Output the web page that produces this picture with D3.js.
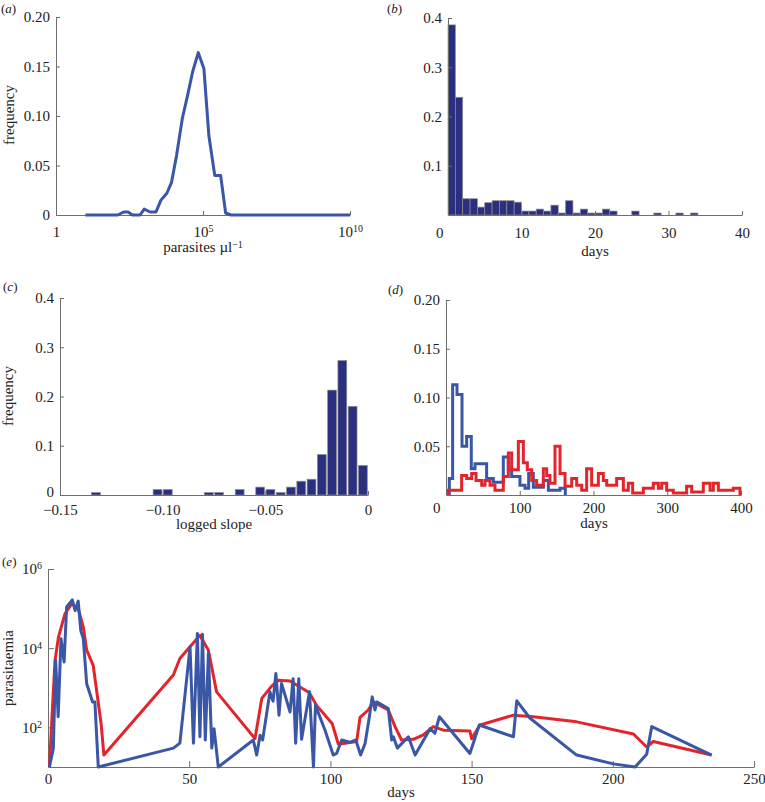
<!DOCTYPE html>
<html><head><meta charset="utf-8">
<script src="https://cdn.jsdelivr.net/npm/d3@7"></script>
<style>
body{margin:0;background:#fff;}
svg text{font-family:"Liberation Serif","Times New Roman",serif;fill:#222;}
</style>
</head><body>
<svg id="chart" width="765" height="802"></svg>
<script>
// ---------- (a) parasite density distribution ----------
const densityValues = [10, 126, 200, 282, 398, 724, 1000, 1585, 2512, 3715, 5888, 8511, 12589, 19953, 29512, 44668, 69183, 107152, 158489, 251189, 398107, 588844, 891251, 1e10];
const densityFreq   = [0, 0, 0.003, 0.003, 0, 0, 0.006, 0.003, 0.003, 0.015, 0.022, 0.033, 0.06, 0.098, 0.12, 0.145, 0.164, 0.148, 0.08, 0.04, 0.04, 0.002, 0, 0];
const densityYTicks = [0, 0.05, 0.10, 0.15, 0.20];
const densityXTicks = [1, 1e5, 1e10];

// ---------- (b) duration histogram ----------
const durationBin  = [0,1,2,3,4,5,6,7,8,9,10,11,12,13,14,15,16,17,18,19,20,21,22,23,24,25,26,27,28,29,30,31,32,33];
const durationFreq = [0.386,0.239,0.033,0.033,0.016,0.025,0.029,0.029,0.029,0.026,0.008,0.008,0.012,0.008,0.020,0.004,0.029,0.004,0.012,0.004,0.004,0.012,0.008,0,0,0.008,0,0,0.004,0,0,0.004,0,0.004];
const durationYTicks = [0.1, 0.2, 0.3, 0.4];
const durationXTicks = [0, 10, 20, 30, 40];

// ---------- (c) logged slope histogram ----------
const slopeCenter = [-0.1325, -0.1025, -0.0975, -0.0775, -0.0725, -0.0625, -0.0525, -0.0475, -0.0425, -0.0375, -0.0325, -0.0275, -0.0225, -0.0175, -0.0125, -0.0075, -0.0025];
const slopeFreq   = [0.005, 0.011, 0.011, 0.005, 0.005, 0.011, 0.016, 0.011, 0.005, 0.016, 0.028, 0.032, 0.082, 0.213, 0.273, 0.180, 0.060];
const slopeYTicks = [0, 0.1, 0.2, 0.3, 0.4];
const slopeXTicks = [-0.15, -0.10, -0.05, 0];
const slopeXLabels = ["\u22120.15", "\u22120.10", "\u22120.05", "0"];

// ---------- (d) stair histograms ----------
const blueStepDay  = [4.5, 9.0, 14.9, 21.7, 28.0, 34.3, 39.3, 55.1, 64.2, 77.7, 84.5, 89.0, 100.3, 107.1, 112.1, 118.4, 132.0, 138.8, 154.6, 161.8];
const blueStepFreq = [0.017, 0.113, 0.103, 0.05, 0.06, 0.027, 0.032, 0.017, 0.013, 0.039, 0.026, 0.019, 0.01, 0.007, 0.022, 0.008, 0.015, 0.005, 0.007, 0];
const redStepDay   = [3.2, 21.2, 28.0, 34.8, 40.7, 48.4, 52.9, 59.7, 66.4, 77.7, 84.5, 89.0, 98.1, 104.9, 110.3, 116.2, 122.9, 132.0, 136.5, 141.0, 147.8, 154.6, 161.4, 170.4, 177.2, 184.0, 190.7, 197.5, 206.6, 213.3, 217.9, 231.4, 240.5, 247.2, 253.1, 267.6, 281.1, 287.9, 292.4, 299.2, 308.2, 326.3, 333.1, 348.9, 358.0, 362.5, 369.3, 389.6, 398.6];
const redStepFreq  = [0.005, 0.02, 0.017, 0.022, 0.015, 0.01, 0.015, 0.01, 0.005, 0.019, 0.043, 0.026, 0.055, 0.033, 0.026, 0.015, 0.01, 0.027, 0.02, 0.012, 0.05, 0.022, 0.009, 0.017, 0.01, 0.005, 0.027, 0.01, 0.022, 0.015, 0.01, 0.017, 0.005, 0.012, 0.002, 0.007, 0.012, 0.007, 0.012, 0.005, 0.002, 0.009, 0.003, 0.012, 0.005, 0.012, 0.005, 0.007, 0];
const stairYTicks = [0.05, 0.10, 0.15, 0.20];
const stairXTicks = [0, 100, 200, 300, 400];

// ---------- (e) parasitaemia time series ----------
const redDays  = [0.5,1.6,2.5,3.7,6.0,8.4,10.7,12.5,13.7,16.0,18.8,19.8,44.4,46.7,53.2,53.8,56.8,59.7,73.3,75.7,79.2,81.6,85.7,89.2,92.5,95.1,100.6,102.8,105.2,109.3,110.5,113.4,115.2,120.5,122.9,125.2,129.4,132.9,136.4,140.0,149.4,150.0,153.0,164.8,171.9,187.2,207.3,212.0,214.3,235.0];
const redParasitaemia = [10,330,5000,19000,74000,132000,100000,34000,8900,3700,126,20,2100,5500,19000,21000,8900,790,52,540,1100,1550,1480,1050,760,360,126,38,40,44,180,275,440,275,105,48,50,65,105,85,81,52,115,204,186,138,68,32,44,20];
const blueDays = [0.5,1.9,2.7,3.6,4.6,5.7,6.6,8.6,9.6,10.7,11.6,12.5,13.7,15.8,16.6,17.8,44.4,46.7,50.3,51.5,52.9,53.8,54.7,55.7,56.8,58.0,58.8,60.3,72.7,73.9,75.1,76.0,78.6,79.7,80.7,81.8,82.7,85.7,86.8,87.7,88.8,89.8,92.6,94.0,94.7,98.1,101.0,102.2,104.0,106.9,109.0,110.7,112.3,113.8,114.8,115.8,116.4,120.5,121.7,122.3,123.7,127.6,130.0,135.3,137.0,138.6,149.4,152.7,164.8,166.0,170.7,187.2,200.2,207.9,212.0,213.8,235.0];
const blueParasitaemia = [10,30,5000,186,17400,4500,110000,166000,89000,155000,28000,17400,1260,440,440,10,30,40,10700,40,23400,58,22400,48,7600,30,93,10,48,20,63,48,790,460,2300,204,1290,245,1700,40,1700,50,790,10,360,85,20,22,48,42,48,20,40,186,590,275,440,300,48,58,30,58,20,93,71,186,22,115,58,470,170,20,12,10,21,105,20];
const seriesYTicks = [1e2, 1e4, 1e6];
const seriesXTicks = [0, 50, 100, 150, 200, 250];

// ---------- drawing ----------
const SERIF = '"Liberation Serif","Times New Roman",serif';
const AXC = '#6e6e6e';
const BLUE = '#3a56a6';
const RED = '#e3252b';
const NAVY = '#2b2f80';
const svg = d3.select('#chart');

function styleAxis(g) {
  g.attr('font-family', SERIF).attr('font-size', 15);
  g.select('.domain').attr('stroke', AXC).attr('stroke-width', 1);
  g.selectAll('.tick line').attr('stroke', AXC).attr('stroke-width', 1);
  g.selectAll('.tick text').attr('fill', '#222');
}
function supLabels(g) {
  g.selectAll('.tick text').each(function(d) {
    const t = d3.select(this);
    const e = Math.round(Math.log10(d));
    t.text(null);
    if (e === 0) { t.text('1'); return; }
    t.append('tspan').text('10');
    t.append('tspan').attr('dy', '-0.5em').attr('font-size', 10).text(e);
  });
}
function panelLabel(x, y, letter) {
  const t = svg.append('text').attr('x', x).attr('y', y).attr('font-size', 13);
  t.append('tspan').text('(');
  t.append('tspan').attr('font-style', 'italic').text(letter);
  t.append('tspan').text(')');
}
function yTitle(x, y, txt) {
  svg.append('text').attr('transform', `translate(${x},${y}) rotate(-90)`)
    .attr('text-anchor', 'middle').attr('font-size', 15).text(txt);
}
function xTitle(x, y, txt) {
  return svg.append('text').attr('x', x).attr('y', y).attr('text-anchor', 'middle').attr('font-size', 15).text(txt);
}
function drawXAxis(scale, y, ticks, pad, tl, fmt) {
  const ax = d3.axisBottom(scale).tickValues(ticks).tickSizeInner(-tl).tickSizeOuter(0).tickPadding(pad);
  if (fmt) ax.tickFormat(fmt);
  const g = svg.append('g').attr('transform', `translate(0,${y})`).call(ax);
  styleAxis(g);
  return g;
}
function drawYAxis(scale, x, ticks, tl, fmt) {
  const ax = d3.axisLeft(scale).tickValues(ticks).tickSizeInner(-tl).tickSizeOuter(0).tickPadding(6);
  if (fmt) ax.tickFormat(fmt);
  const g = svg.append('g').attr('transform', `translate(${x},0)`).call(ax);
  styleAxis(g);
  return g;
}

// (a)
{
  const x = d3.scaleLog().domain([1, 1e10]).range([56, 350]);
  const y = d3.scaleLinear().domain([0, 0.20]).range([215, 17]);
  drawYAxis(y, 56, densityYTicks, 4, d => d === 0 ? '0' : d3.format('.2f')(d));
  const gx = drawXAxis(x, 215, densityXTicks, 11, 4);
  supLabels(gx);
  const pts = densityValues.map((v, i) => [v, densityFreq[i]]);
  svg.append('path').datum(pts)
    .attr('d', d3.line().x(d => x(d[0])).y(d => y(d[1])))
    .attr('fill', 'none').attr('stroke', BLUE).attr('stroke-width', 3).attr('stroke-linejoin', 'round');
  panelLabel(1, 13, 'a');
  yTitle(14, 115, 'frequency');
  const t = xTitle(203, 252, 'parasites \u00b5l');
  t.append('tspan').attr('dy', '-0.45em').attr('font-size', 10).text('\u22121');
}

// (b)
{
  const x = d3.scaleLinear().domain([0, 40]).range([448, 742]);
  const y = d3.scaleLinear().domain([0, 0.4]).range([215, 18]);
  svg.append('g').selectAll('rect').data(durationBin.map((b, i) => [b, durationFreq[i]]).filter(d => d[1] > 0))
    .join('rect')
    .attr('x', d => x(d[0])).attr('width', d => x(d[0] + 1) - x(d[0]))
    .attr('y', d => y(d[1])).attr('height', d => y(0) - y(d[1]))
    .attr('fill', NAVY).attr('stroke', '#8c8c8c').attr('stroke-width', 0.7);
  drawYAxis(y, 448, durationYTicks, 4, d3.format('.1f'));
  const gx = drawXAxis(x, 215, durationXTicks, 12, 4, d3.format('d'));
  gx.selectAll('.tick text').filter(d => d === 0).attr('text-anchor', 'end').attr('dx', -5);
  panelLabel(387, 13, 'b');
  xTitle(595, 256, 'days');
}

// (c)
{
  const x = d3.scaleLinear().domain([-0.15, 0]).range([60, 368]);
  const y = d3.scaleLinear().domain([0, 0.4]).range([495, 298]);
  const bw = x(0.005) - x(0);
  svg.append('g').selectAll('rect').data(slopeCenter.map((c, i) => [c, slopeFreq[i]]))
    .join('rect')
    .attr('x', d => x(d[0]) - bw * 0.43).attr('width', bw * 0.86)
    .attr('y', d => y(d[1])).attr('height', d => y(0) - y(d[1]))
    .attr('fill', NAVY).attr('stroke', '#8c8c8c').attr('stroke-width', 0.7);
  const gy = drawYAxis(y, 60, slopeYTicks, 4, d => d === 0 ? '0' : d3.format('.1f')(d));
  gy.selectAll('.tick text').filter(d => d === 0).attr('dy', '0.1em');
  drawXAxis(x, 495, slopeXTicks, 9, 4, (d, i) => slopeXLabels[i]);
  panelLabel(3, 291, 'c');
  yTitle(13, 396, 'frequency');
  xTitle(214, 529, 'logged slope');
}

// (d)
{
  const x = d3.scaleLinear().domain([0, 400]).range([446, 741]);
  const y = d3.scaleLinear().domain([0, 0.20]).range([495, 300]);
  const stair = d3.line().curve(d3.curveStepAfter).x(d => x(d[0])).y(d => y(d[1]));
  const bluePts = [[blueStepDay[0], 0]].concat(blueStepDay.map((d, i) => [d, blueStepFreq[i]]));
  const redPts = [[redStepDay[0], 0]].concat(redStepDay.map((d, i) => [d, redStepFreq[i]]));
  drawYAxis(y, 446, stairYTicks, 4, d3.format('.2f'));
  const gx = drawXAxis(x, 495, stairXTicks, 7, 4, d3.format('d'));
  gx.selectAll('.tick text').filter(d => d === 0).attr('text-anchor', 'end').attr('dx', -6);
  svg.append('path').datum(bluePts).attr('d', stair)
    .attr('fill', 'none').attr('stroke', BLUE).attr('stroke-width', 3);
  svg.append('path').datum(redPts).attr('d', stair)
    .attr('fill', 'none').attr('stroke', RED).attr('stroke-width', 3);
  panelLabel(388, 294, 'd');
  xTitle(594, 528, 'days');
}

// (e)
{
  const x = d3.scaleLinear().domain([0, 250]).range([48, 754]);
  const y = d3.scaleLog().domain([10, 1e6]).range([767, 569]);
  const gy = drawYAxis(y, 48, seriesYTicks, 6);
  supLabels(gy);
  drawXAxis(x, 767, seriesXTicks, 6, 6, d3.format('d'));
  const line = d3.line().x(d => x(d[0])).y(d => y(d[1]));
  svg.append('path').datum(redDays.map((d, i) => [d, redParasitaemia[i]])).attr('d', line)
    .attr('fill', 'none').attr('stroke', RED).attr('stroke-width', 3).attr('stroke-linejoin', 'round');
  svg.append('path').datum(blueDays.map((d, i) => [d, blueParasitaemia[i]])).attr('d', line)
    .attr('fill', 'none').attr('stroke', BLUE).attr('stroke-width', 3).attr('stroke-linejoin', 'round');
  panelLabel(2, 566, 'e');
  yTitle(13, 668, 'parasitaemia');
  xTitle(401, 797, 'days');
}
</script>
</body></html>
